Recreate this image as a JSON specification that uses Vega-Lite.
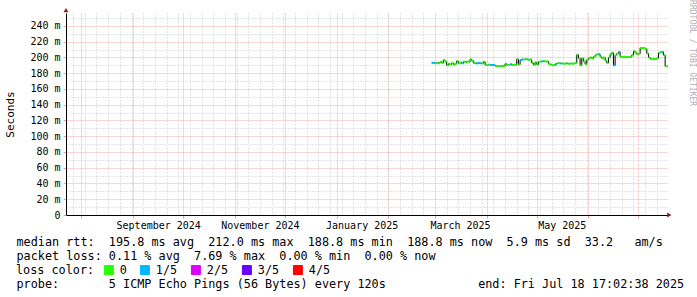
{
  "$schema": "https://vega.github.io/schema/vega-lite/v6.json",
  "width": 602,
  "height": 202,
  "autosize": {"type": "none"},
  "padding": {"left": 66, "top": 13, "right": 29, "bottom": 82},
  "background": "white",
  "config": {"view": {"stroke": null}, "font": "DejaVu Sans Mono"},
  "title": {"text": "RRDTOOL / TOBI OETIKER", "orient": "right", "anchor": "start", "angle": 90, "fontSize": 8, "font": "DejaVu Sans Mono", "fontWeight": "normal", "color": "#b0b0b0", "offset": 6, "dx": -8, "dy": 2},
  "data": {
    "format": {"parse": {"t": "date"}},
    "values": [
      {"t": "2025-02-27T00:00", "v": 193.4, "l": "1/5"},
      {"t": "2025-02-28T00:00", "v": 193.0, "l": "1/5"},
      {"t": "2025-03-01T00:00", "v": 192.6, "l": "0"},
      {"t": "2025-03-02T00:00", "v": 193.5, "l": "0"},
      {"t": "2025-03-03T00:00", "v": 192.6, "l": "0"},
      {"t": "2025-03-04T00:00", "v": 194.5, "l": "0"},
      {"t": "2025-03-05T00:00", "v": 193.0, "l": "0"},
      {"t": "2025-03-06T00:00", "v": 196.8, "l": "0"},
      {"t": "2025-03-07T00:00", "v": 195.0, "l": "0"},
      {"t": "2025-03-08T00:00", "v": 190.0, "l": "0"},
      {"t": "2025-03-09T00:00", "v": 192.0, "l": "0"},
      {"t": "2025-03-10T00:00", "v": 191.0, "l": "0"},
      {"t": "2025-03-11T00:00", "v": 193.0, "l": "0"},
      {"t": "2025-03-12T00:00", "v": 191.0, "l": "0"},
      {"t": "2025-03-13T00:00", "v": 192.0, "l": "0"},
      {"t": "2025-03-14T00:00", "v": 195.5, "l": "0"},
      {"t": "2025-03-15T00:00", "v": 192.6, "l": "0"},
      {"t": "2025-03-16T00:00", "v": 193.5, "l": "0"},
      {"t": "2025-03-17T00:00", "v": 192.6, "l": "1/5"},
      {"t": "2025-03-18T00:00", "v": 194.7, "l": "0"},
      {"t": "2025-03-19T00:00", "v": 194.0, "l": "0"},
      {"t": "2025-03-20T00:00", "v": 195.0, "l": "0"},
      {"t": "2025-03-21T00:00", "v": 194.5, "l": "0"},
      {"t": "2025-03-22T00:00", "v": 197.7, "l": "0"},
      {"t": "2025-03-23T00:00", "v": 196.0, "l": "0"},
      {"t": "2025-03-24T00:00", "v": 193.0, "l": "0"},
      {"t": "2025-03-25T00:00", "v": 192.6, "l": "1/5"},
      {"t": "2025-03-26T00:00", "v": 192.6, "l": "1/5"},
      {"t": "2025-03-27T00:00", "v": 193.0, "l": "1/5"},
      {"t": "2025-03-28T00:00", "v": 192.6, "l": "1/5"},
      {"t": "2025-03-29T00:00", "v": 192.6, "l": "0"},
      {"t": "2025-03-30T00:00", "v": 194.7, "l": "0"},
      {"t": "2025-03-31T00:00", "v": 190.5, "l": "0"},
      {"t": "2025-04-01T00:00", "v": 190.5, "l": "0"},
      {"t": "2025-04-02T00:00", "v": 191.0, "l": "0"},
      {"t": "2025-04-03T00:00", "v": 190.5, "l": "1/5"},
      {"t": "2025-04-04T00:00", "v": 190.5, "l": "1/5"},
      {"t": "2025-04-05T00:00", "v": 190.5, "l": "1/5"},
      {"t": "2025-04-06T00:00", "v": 189.0, "l": "0"},
      {"t": "2025-04-07T00:00", "v": 189.0, "l": "0"},
      {"t": "2025-04-08T00:00", "v": 189.0, "l": "0"},
      {"t": "2025-04-09T00:00", "v": 189.0, "l": "0"},
      {"t": "2025-04-10T00:00", "v": 189.5, "l": "0"},
      {"t": "2025-04-11T00:00", "v": 189.0, "l": "0"},
      {"t": "2025-04-12T00:00", "v": 192.0, "l": "0"},
      {"t": "2025-04-13T00:00", "v": 190.5, "l": "0"},
      {"t": "2025-04-14T00:00", "v": 190.5, "l": "0"},
      {"t": "2025-04-15T00:00", "v": 191.5, "l": "1/5"},
      {"t": "2025-04-16T00:00", "v": 190.5, "l": "0"},
      {"t": "2025-04-17T00:00", "v": 191.0, "l": "0"},
      {"t": "2025-04-18T00:00", "v": 190.5, "l": "0"},
      {"t": "2025-04-19T00:00", "v": 198.0, "l": "0"},
      {"t": "2025-04-20T00:00", "v": 191.0, "l": "0"},
      {"t": "2025-04-21T00:00", "v": 196.5, "l": "1/5"},
      {"t": "2025-04-22T00:00", "v": 197.5, "l": "1/5"},
      {"t": "2025-04-23T00:00", "v": 197.5, "l": "0"},
      {"t": "2025-04-24T00:00", "v": 198.0, "l": "0"},
      {"t": "2025-04-25T00:00", "v": 197.5, "l": "1/5"},
      {"t": "2025-04-26T00:00", "v": 197.0, "l": "0"},
      {"t": "2025-04-27T00:00", "v": 197.5, "l": "0"},
      {"t": "2025-04-28T00:00", "v": 193.0, "l": "0"},
      {"t": "2025-04-29T00:00", "v": 190.5, "l": "0"},
      {"t": "2025-04-30T00:00", "v": 194.0, "l": "0"},
      {"t": "2025-05-01T00:00", "v": 191.0, "l": "0"},
      {"t": "2025-05-02T00:00", "v": 194.5, "l": "0"},
      {"t": "2025-05-03T00:00", "v": 195.0, "l": "0"},
      {"t": "2025-05-04T00:00", "v": 195.0, "l": "1/5"},
      {"t": "2025-05-05T00:00", "v": 195.5, "l": "0"},
      {"t": "2025-05-06T00:00", "v": 195.0, "l": "0"},
      {"t": "2025-05-07T00:00", "v": 195.0, "l": "0"},
      {"t": "2025-05-08T00:00", "v": 192.0, "l": "0"},
      {"t": "2025-05-09T00:00", "v": 191.0, "l": "0"},
      {"t": "2025-05-10T00:00", "v": 190.5, "l": "0"},
      {"t": "2025-05-11T00:00", "v": 190.0, "l": "0"},
      {"t": "2025-05-12T00:00", "v": 191.5, "l": "1/5"},
      {"t": "2025-05-13T00:00", "v": 192.5, "l": "0"},
      {"t": "2025-05-14T00:00", "v": 193.0, "l": "0"},
      {"t": "2025-05-15T00:00", "v": 192.5, "l": "1/5"},
      {"t": "2025-05-16T00:00", "v": 192.5, "l": "0"},
      {"t": "2025-05-17T00:00", "v": 192.0, "l": "0"},
      {"t": "2025-05-18T00:00", "v": 192.5, "l": "0"},
      {"t": "2025-05-19T00:00", "v": 192.5, "l": "1/5"},
      {"t": "2025-05-20T00:00", "v": 192.0, "l": "0"},
      {"t": "2025-05-21T00:00", "v": 192.5, "l": "0"},
      {"t": "2025-05-22T00:00", "v": 192.0, "l": "0"},
      {"t": "2025-05-23T00:00", "v": 192.5, "l": "0"},
      {"t": "2025-05-24T00:00", "v": 193.0, "l": "0"},
      {"t": "2025-05-25T00:00", "v": 203.5, "l": "0"},
      {"t": "2025-05-26T00:00", "v": 199.0, "l": "0"},
      {"t": "2025-05-27T00:00", "v": 190.0, "l": "0"},
      {"t": "2025-05-28T00:00", "v": 199.0, "l": "0"},
      {"t": "2025-05-29T00:00", "v": 195.0, "l": "0"},
      {"t": "2025-05-30T00:00", "v": 191.5, "l": "0"},
      {"t": "2025-05-31T00:00", "v": 197.0, "l": "0"},
      {"t": "2025-06-01T00:00", "v": 199.0, "l": "0"},
      {"t": "2025-06-02T00:00", "v": 200.0, "l": "0"},
      {"t": "2025-06-03T00:00", "v": 199.0, "l": "0"},
      {"t": "2025-06-04T00:00", "v": 201.0, "l": "0"},
      {"t": "2025-06-05T00:00", "v": 203.0, "l": "0"},
      {"t": "2025-06-06T00:00", "v": 204.0, "l": "0"},
      {"t": "2025-06-07T00:00", "v": 204.0, "l": "1/5"},
      {"t": "2025-06-08T00:00", "v": 201.0, "l": "0"},
      {"t": "2025-06-09T00:00", "v": 199.0, "l": "0"},
      {"t": "2025-06-10T00:00", "v": 200.0, "l": "0"},
      {"t": "2025-06-11T00:00", "v": 196.0, "l": "0"},
      {"t": "2025-06-12T00:00", "v": 193.0, "l": "0"},
      {"t": "2025-06-13T00:00", "v": 200.0, "l": "0"},
      {"t": "2025-06-14T00:00", "v": 204.0, "l": "0"},
      {"t": "2025-06-15T00:00", "v": 206.0, "l": "0"},
      {"t": "2025-06-16T00:00", "v": 190.0, "l": "1/5"},
      {"t": "2025-06-17T00:00", "v": 203.0, "l": "0"},
      {"t": "2025-06-18T00:00", "v": 205.0, "l": "0"},
      {"t": "2025-06-19T00:00", "v": 207.0, "l": "1/5"},
      {"t": "2025-06-20T00:00", "v": 201.0, "l": "0"},
      {"t": "2025-06-21T00:00", "v": 200.5, "l": "0"},
      {"t": "2025-06-22T00:00", "v": 200.5, "l": "0"},
      {"t": "2025-06-23T00:00", "v": 200.5, "l": "0"},
      {"t": "2025-06-24T00:00", "v": 200.5, "l": "0"},
      {"t": "2025-06-25T00:00", "v": 200.5, "l": "0"},
      {"t": "2025-06-26T00:00", "v": 200.5, "l": "0"},
      {"t": "2025-06-27T00:00", "v": 203.0, "l": "0"},
      {"t": "2025-06-28T00:00", "v": 208.0, "l": "0"},
      {"t": "2025-06-29T00:00", "v": 206.0, "l": "0"},
      {"t": "2025-06-30T00:00", "v": 204.0, "l": "0"},
      {"t": "2025-07-01T00:00", "v": 205.0, "l": "0"},
      {"t": "2025-07-02T00:00", "v": 212.0, "l": "0"},
      {"t": "2025-07-03T00:00", "v": 212.0, "l": "0"},
      {"t": "2025-07-04T00:00", "v": 212.0, "l": "0"},
      {"t": "2025-07-05T00:00", "v": 211.0, "l": "0"},
      {"t": "2025-07-06T00:00", "v": 205.0, "l": "0"},
      {"t": "2025-07-07T00:00", "v": 200.0, "l": "0"},
      {"t": "2025-07-08T00:00", "v": 198.0, "l": "0"},
      {"t": "2025-07-09T00:00", "v": 198.0, "l": "0"},
      {"t": "2025-07-10T00:00", "v": 198.0, "l": "0"},
      {"t": "2025-07-11T00:00", "v": 198.0, "l": "0"},
      {"t": "2025-07-12T00:00", "v": 199.0, "l": "0"},
      {"t": "2025-07-13T00:00", "v": 206.0, "l": "0"},
      {"t": "2025-07-14T00:00", "v": 207.0, "l": "0"},
      {"t": "2025-07-15T00:00", "v": 207.0, "l": "1/5"},
      {"t": "2025-07-16T00:00", "v": 203.0, "l": "0"},
      {"t": "2025-07-17T00:00", "v": 188.8, "l": "0"},
      {"t": "2025-07-18T17:00", "v": 188.8, "l": "0"}
    ]
  },
  "layer": [
    {
      "mark": {"type": "line", "interpolate": "step-after", "color": "black", "strokeWidth": 1},
      "encoding": {
        "x": {
          "field": "t", "type": "temporal",
          "scale": {"domain": [{"year": 2024, "month": 7, "date": 22, "hours": 17, "minutes": 2, "seconds": 38}, {"year": 2025, "month": 7, "date": 18, "hours": 17, "minutes": 2, "seconds": 38}]},
          "axis": {
            "orient": "bottom",
            "values": [
              {"year": 2024, "month": 8, "date": 1}, {"year": 2024, "month": 9, "date": 1}, {"year": 2024, "month": 10, "date": 1},
              {"year": 2024, "month": 11, "date": 1}, {"year": 2024, "month": 12, "date": 1}, {"year": 2025, "month": 1, "date": 1},
              {"year": 2025, "month": 2, "date": 1}, {"year": 2025, "month": 3, "date": 1}, {"year": 2025, "month": 4, "date": 1},
              {"year": 2025, "month": 5, "date": 1}, {"year": 2025, "month": 6, "date": 1}, {"year": 2025, "month": 7, "date": 1}
            ],
            "labelExpr": "(month(datum.value) % 2 == 0 && month(datum.value) != 6) ? timeFormat(datum.value, '%B %Y') : ''",
            "labelOffset": 25,
            "labelFont": "DejaVu Sans Mono", "labelFontSize": 10, "labelColor": "black",
            "labelOverlap": false, "labelFlush": false, "labelPadding": 2,
            "ticks": true, "tickSize": 3, "tickColor": "#e8a0a0",
            "grid": true, "gridColor": "#f0a0a0", "gridDash": [1, 1], "gridWidth": 1, "gridOpacity": 0.85,
            "domain": true, "domainColor": "black", "domainWidth": 1,
            "title": [
              "median rtt:\u00a0\u00a0195.8 ms avg\u00a0\u00a0212.0 ms max\u00a0\u00a0188.8 ms min\u00a0\u00a0188.8 ms now\u00a0\u00a05.9 ms sd\u00a0\u00a033.2\u00a0\u00a0\u00a0am/s",
              "packet loss: 0.11 % avg\u00a0\u00a07.69 % max\u00a0\u00a00.00 % min\u00a0\u00a00.00 % now",
              "\u200b",
              "probe:\u00a0\u00a0\u00a0\u00a0\u00a0\u00a0\u00a05 ICMP Echo Pings (56 Bytes) every 120s\u00a0\u00a0\u00a0\u00a0\u00a0\u00a0\u00a0\u00a0\u00a0\u00a0\u00a0\u00a0\u00a0end: Fri Jul 18 17:02:38 2025"
            ],
            "titleX": -50, "titleY": 30, "titleAlign": "left", "titleAngle": 0,
            "titleBaseline": "alphabetic", "titleFont": "DejaVu Sans Mono", "titleFontSize": 11.8,
            "titleFontWeight": "normal", "titleColor": "black", "titleLineHeight": 14
          }
        },
        "y": {
          "field": "v", "type": "quantitative",
          "scale": {"domain": [0, 256.5], "nice": false, "zero": true},
          "axis": {
            "orient": "left",
            "values": [0, 20, 40, 60, 80, 100, 120, 140, 160, 180, 200, 220, 240],
            "labelExpr": "datum.value == 0 ? '0\u00a0\u00a0' : datum.value + ' m'",
            "labelFont": "DejaVu Sans Mono", "labelFontSize": 10, "labelColor": "black", "labelPadding": 3,
            "ticks": true, "tickSize": 3, "tickColor": "#e8a0a0",
            "grid": true, "gridColor": "#f0a0a0", "gridDash": [1, 1], "gridWidth": 1, "gridOpacity": 0.85,
            "domain": true, "domainColor": "black", "domainWidth": 1,
            "title": "Seconds", "titleX": -56, "titleY": 101, "titleAngle": -90, "titleAlign": "center",
            "titleBaseline": "middle", "titleFont": "DejaVu Sans Mono", "titleFontSize": 11,
            "titleFontWeight": "normal", "titleColor": "black"
          }
        }
      }
    },
    {
      "transform": [
        {"window": [{"op": "lead", "field": "t", "as": "t2"}]},
        {"filter": "datum.t2 != null"}
      ],
      "mark": {"type": "rule", "strokeWidth": 2},
      "encoding": {
        "x": {
          "field": "t", "type": "temporal",
          "axis": {
            "orient": "bottom",
            "values": [
              {"year": 2024, "month": 7, "date": 27}, {"year": 2024, "month": 8, "date": 3}, {"year": 2024, "month": 8, "date": 10},
              {"year": 2024, "month": 8, "date": 17}, {"year": 2024, "month": 8, "date": 24}, {"year": 2024, "month": 8, "date": 31},
              {"year": 2024, "month": 9, "date": 7}, {"year": 2024, "month": 9, "date": 14}, {"year": 2024, "month": 9, "date": 21},
              {"year": 2024, "month": 9, "date": 28}, {"year": 2024, "month": 10, "date": 5}, {"year": 2024, "month": 10, "date": 12},
              {"year": 2024, "month": 10, "date": 19}, {"year": 2024, "month": 10, "date": 26}, {"year": 2024, "month": 11, "date": 2},
              {"year": 2024, "month": 11, "date": 9}, {"year": 2024, "month": 11, "date": 16}, {"year": 2024, "month": 11, "date": 23},
              {"year": 2024, "month": 11, "date": 30}, {"year": 2024, "month": 12, "date": 7}, {"year": 2024, "month": 12, "date": 14},
              {"year": 2024, "month": 12, "date": 21}, {"year": 2024, "month": 12, "date": 28}, {"year": 2025, "month": 1, "date": 4},
              {"year": 2025, "month": 1, "date": 11}, {"year": 2025, "month": 1, "date": 18}, {"year": 2025, "month": 1, "date": 25},
              {"year": 2025, "month": 2, "date": 1}, {"year": 2025, "month": 2, "date": 8}, {"year": 2025, "month": 2, "date": 15},
              {"year": 2025, "month": 2, "date": 22}, {"year": 2025, "month": 3, "date": 8}, {"year": 2025, "month": 3, "date": 15},
              {"year": 2025, "month": 3, "date": 22}, {"year": 2025, "month": 3, "date": 29}, {"year": 2025, "month": 4, "date": 5},
              {"year": 2025, "month": 4, "date": 12}, {"year": 2025, "month": 4, "date": 19}, {"year": 2025, "month": 4, "date": 26},
              {"year": 2025, "month": 5, "date": 3}, {"year": 2025, "month": 5, "date": 10}, {"year": 2025, "month": 5, "date": 17},
              {"year": 2025, "month": 5, "date": 24}, {"year": 2025, "month": 5, "date": 31}, {"year": 2025, "month": 6, "date": 7},
              {"year": 2025, "month": 6, "date": 14}, {"year": 2025, "month": 6, "date": 21}, {"year": 2025, "month": 6, "date": 28},
              {"year": 2025, "month": 7, "date": 5}, {"year": 2025, "month": 7, "date": 12}
            ],
            "labels": false, "ticks": false, "domain": false, "title": null,
            "grid": true, "gridColor": "#c8c8c8", "gridDash": [1, 2], "gridWidth": 1
          }
        },
        "x2": {"field": "t2"},
        "y": {
          "field": "v", "type": "quantitative",
          "axis": {
            "orient": "left",
            "values": [10, 30, 50, 70, 90, 110, 130, 150, 170, 190, 210, 230, 250],
            "labels": false, "ticks": false, "domain": false, "title": null,
            "grid": true, "gridColor": "#c8c8c8", "gridDash": [1, 2], "gridWidth": 1
          }
        },
        "color": {
          "field": "l", "type": "nominal",
          "scale": {"domain": ["0", "1/5", "2/5", "3/5", "4/5"], "range": ["#26ff00", "#00b8ff", "#dd00ff", "#6600ff", "#ff0000"]},
          "legend": {
            "orient": "none", "legendX": -50, "legendY": 251, "direction": "horizontal",
            "title": "loss color:", "titleOrient": "left", "titleFont": "DejaVu Sans Mono", "titleFontSize": 11.8,
            "titleFontWeight": "normal", "titleColor": "black", "titlePadding": 8, "titleBaseline": "middle",
            "labelFont": "DejaVu Sans Mono", "labelFontSize": 11.8, "labelColor": "black", "labelOffset": 5,
            "columnPadding": 11, "symbolType": "square", "symbolSize": 81, "symbolStrokeColor": "black",
            "symbolStrokeWidth": 1, "padding": 0,
            "encode": {"symbols": {"update": {"fill": {"scale": "color", "field": "value"}, "stroke": {"value": "black"}, "strokeWidth": {"value": 1}, "opacity": {"value": 1}}}}
          }
        }
      }
    },
    {
      "data": {"values": [{"arrow": "x"}]},
      "mark": {"type": "point", "shape": "triangle-right", "filled": true, "color": "#8b1a1a", "size": 24, "opacity": 1, "clip": false},
      "encoding": {
        "x": {"datum": {"year": 2025, "month": 7, "date": 19, "hours": 12}, "type": "temporal", "axis": null},
        "y": {"datum": 0, "type": "quantitative", "axis": null}
      }
    },
    {
      "data": {"values": [{"arrow": "y"}]},
      "mark": {"type": "point", "shape": "triangle-up", "filled": true, "color": "#8b1a1a", "size": 24, "opacity": 1, "clip": false},
      "encoding": {
        "x": {"datum": {"year": 2024, "month": 7, "date": 22, "hours": 17, "minutes": 2, "seconds": 38}, "type": "temporal", "axis": null},
        "y": {"datum": 260, "type": "quantitative", "axis": null}
      }
    }
  ],
  "resolve": {"axis": {"x": "independent", "y": "independent"}}
}
